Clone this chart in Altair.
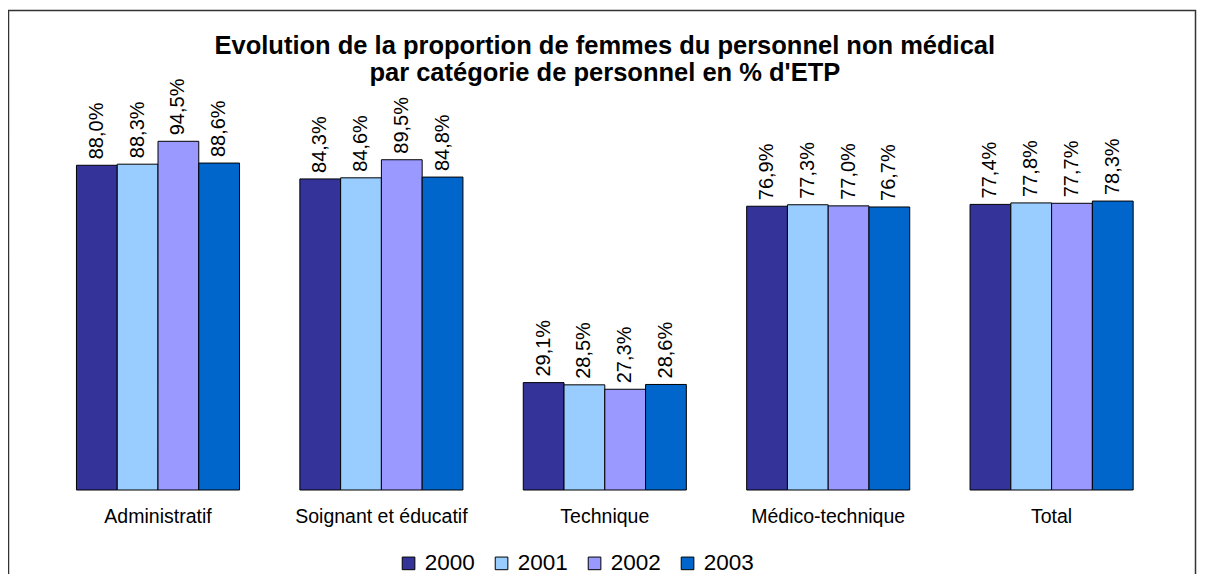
import altair as alt
import pandas as pd

categories = ["Administratif", "Soignant et éducatif", "Technique", "Médico-technique", "Total"]
years = ["2000", "2001", "2002", "2003"]
v2000 = [88.0, 84.3, 29.1, 76.9, 77.4]
v2001 = [88.3, 84.6, 28.5, 77.3, 77.8]
v2002 = [94.5, 89.5, 27.3, 77.0, 77.7]
v2003 = [88.6, 84.8, 28.6, 76.7, 78.3]
colors = ["#333399", "#99CCFF", "#9999FF", "#0066CC"]
title_lines = ["Evolution de la proportion de femmes du personnel non médical",
               "par catégorie de personnel en % d'ETP"]

rows = []
for y, vals in zip(years, [v2000, v2001, v2002, v2003]):
    for c, v in zip(categories, vals):
        rows.append({"cat": c, "year": y, "val": v,
                     "label": f"{v:.1f}".replace(".", ",") + "%"})
df = pd.DataFrame(rows)

FONT = "Liberation Sans"
W, H = 1117, 369

x_enc = alt.X("cat:N", sort=categories,
              scale=alt.Scale(paddingInner=0.27, paddingOuter=0.135),
              axis=alt.Axis(title=None, domain=False, ticks=False, labelAngle=0,
                            labelFontSize=19.5, labelFont=FONT, labelColor="black",
                            labelPadding=17))
xo_enc = alt.XOffset("year:N", sort=years, scale=alt.Scale(paddingInner=0, paddingOuter=0))
y_enc = alt.Y("val:Q", scale=alt.Scale(domain=[0, 100]), axis=None)

base = alt.Chart(df)
bars = base.mark_bar(stroke="black", strokeWidth=1).encode(
    x=x_enc, xOffset=xo_enc, y=y_enc,
    color=alt.Color("year:N", sort=years,
                    scale=alt.Scale(domain=years, range=colors),
                    legend=alt.Legend(title=None, orient="none", direction="horizontal",
                                      legendX=351, legendY=431,
                                      symbolType="square", symbolSize=160,
                                      symbolStrokeColor="black", symbolStrokeWidth=1,
                                      symbolOpacity=1,
                                      labelFontSize=22.5, labelFont=FONT, labelColor="black",
                                      labelOffset=5, columnPadding=15, padding=0)),
)
labels = base.mark_text(angle=270, align="left", baseline="middle", dx=6,
                        fontSize=20, font=FONT, color="black").encode(
    x=x_enc, xOffset=xo_enc, y=y_enc, text="label:N")

frame = alt.Chart(pd.DataFrame({"f": [0]})).mark_rect(
    fillOpacity=0, stroke="#333333", strokeWidth=1.5).encode(
    x=alt.value(-37.8), x2=alt.value(1149.2), y=alt.value(-110.5), y2=alt.value(480))

chart = alt.layer(frame, bars, labels).properties(
    width=W, height=H,
    title=alt.TitleParams(text=title_lines, fontSize=25.5, fontWeight="bold", font=FONT,
                          color="black", lineHeight=27, anchor="middle", frame="group",
                          offset=0, dy=77),
    autosize=alt.AutoSizeParams(type="none"),
    padding={"left": 38.3, "top": 113, "right": 33.7, "bottom": 84},
).configure_view(stroke=None)

chart.save("out.html", embed_options={"renderer": "svg", "actions": False})
